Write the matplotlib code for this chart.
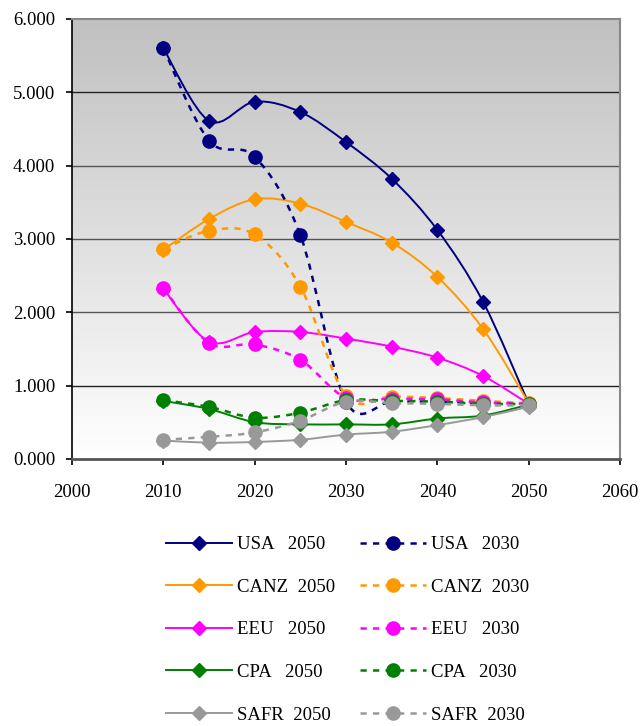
import numpy as np
import matplotlib
matplotlib.use("Agg")
import matplotlib.pyplot as plt
from matplotlib.path import Path
from matplotlib.patches import PathPatch
from matplotlib.lines import Line2D
from matplotlib.colors import LinearSegmentedColormap

plt.rcParams['font.family'] = ['Liberation Serif', 'DejaVu Serif']

years = [2010, 2015, 2020, 2025, 2030, 2035, 2040, 2045, 2050]

regions = ['USA', 'CANZ', 'EEU', 'CPA', 'SAFR']
colors = ['#000080', '#FF9900', '#FF00FF', '#008000', '#999999']

# target year 2050
usa_2050 = [5.60, 4.61, 4.87, 4.73, 4.32, 3.82, 3.12, 2.14, 0.75]
canz_2050 = [2.85, 3.27, 3.54, 3.48, 3.23, 2.95, 2.48, 1.77, 0.76]
eeu_2050 = [2.32, 1.60, 1.73, 1.73, 1.64, 1.53, 1.38, 1.13, 0.75]
cpa_2050 = [0.79, 0.68, 0.50, 0.47, 0.47, 0.47, 0.55, 0.59, 0.74]
safr_2050 = [0.25, 0.22, 0.23, 0.26, 0.33, 0.37, 0.46, 0.57, 0.71]

# target year 2030
usa_2030 = [5.60, 4.34, 4.12, 3.05, 0.78, 0.78, 0.78, 0.76, 0.75]
canz_2030 = [2.86, 3.11, 3.06, 2.35, 0.86, 0.85, 0.83, 0.79, 0.76]
eeu_2030 = [2.33, 1.58, 1.56, 1.35, 0.83, 0.82, 0.81, 0.77, 0.75]
cpa_2030 = [0.80, 0.71, 0.56, 0.63, 0.80, 0.79, 0.78, 0.75, 0.75]
safr_2030 = [0.26, 0.30, 0.36, 0.52, 0.78, 0.76, 0.75, 0.73, 0.73]

series_2050 = [usa_2050, canz_2050, eeu_2050, cpa_2050, safr_2050]
series_2030 = [usa_2030, canz_2030, eeu_2030, cpa_2030, safr_2030]


def smooth_path(xs, ys):
    # cubic bezier through every point, tangents from the neighbours
    p = np.column_stack([xs, ys]).astype(float)
    ext = np.vstack([p[0], p, p[-1]])
    verts = [p[0]]
    codes = [Path.MOVETO]
    for i in range(len(p) - 1):
        c1 = p[i] + (ext[i + 2] - ext[i]) / 6.0
        c2 = p[i + 1] - (ext[i + 3] - ext[i + 1]) / 6.0
        verts += [c1, c2, p[i + 1]]
        codes += [Path.CURVE4] * 3
    return Path(verts, codes)


fig = plt.figure(figsize=(6.42, 7.26), dpi=100)
ax = fig.add_axes([0.112, 0.368, 0.854, 0.606])

grad = LinearSegmentedColormap.from_list('bg', ['#FFFFFF', '#C0C0C0'])
ax.imshow(np.linspace(0, 1, 256)[:, None], cmap=grad, origin='lower',
          extent=[2000, 2060, 0, 6], aspect='auto', zorder=0)

for y in [1, 2, 3, 4, 5]:
    ax.axhline(y, color='#222222' if y in (1, 5) else '#555555', lw=1.0, zorder=1)

handles = []
z = 2
for name, c, vals in zip(regions, colors, series_2050):
    ax.add_patch(PathPatch(smooth_path(years, vals), fill=False, edgecolor=c,
                           lw=1.4, zorder=z))
    ax.plot(years, vals, ls='none', marker='D', ms=7, color=c, mec=c,
            zorder=z + 0.5)
    z += 1
for name, c, vals in zip(regions, colors, series_2030):
    ax.add_patch(PathPatch(smooth_path(years, vals), fill=False, edgecolor=c,
                           lw=1.8, ls=(0, (2.5, 2.5)), zorder=z))
    ax.plot(years, vals, ls='none', marker='o', ms=9.5, color=c, mec=c,
            zorder=z + 0.5)
    z += 1

labels_2050 = ['USA   2050', 'CANZ  2050', 'EEU   2050', 'CPA   2050', 'SAFR  2050']
labels_2030 = ['USA   2030', 'CANZ  2030', 'EEU   2030', 'CPA   2030', 'SAFR  2030']
for c in colors:
    handles.append(Line2D([], [], color=c, lw=1.4, marker='D', ms=7))
for c in colors:
    handles.append(Line2D([], [], color=c, lw=1.8, ls=(0, (2.5, 2.5)),
                          marker='o', ms=9.5))

ax.set_xlim(2000, 2060)
ax.set_ylim(0, 6)
ax.set_xticks(range(2000, 2061, 10))
ax.set_yticks(range(0, 7))
ax.set_yticklabels([f"{v:.3f}" for v in range(0, 7)])
ax.tick_params(axis='both', direction='out', length=4, width=1.2,
               labelsize=13.5, colors='black')
ax.tick_params(axis='y', pad=8)
ax.tick_params(axis='x', pad=14)

ax.spines['top'].set_color('#888888')
ax.spines['right'].set_color('#888888')
ax.spines['top'].set_linewidth(1.5)
ax.spines['right'].set_linewidth(1.5)
ax.spines['left'].set_color('black')
ax.spines['left'].set_linewidth(1.2)
ax.spines['bottom'].set_color('#555555')
ax.spines['bottom'].set_linewidth(2)

fig.legend(handles, labels_2050 + labels_2030, ncol=2, frameon=False,
           loc='upper left', bbox_to_anchor=(0.2325, 0.285),
           fontsize=13.5, handlelength=3.5, handletextpad=0.3,
           columnspacing=1.3, labelspacing=1.36, numpoints=1)

fig.savefig('out.png', dpi=100)
